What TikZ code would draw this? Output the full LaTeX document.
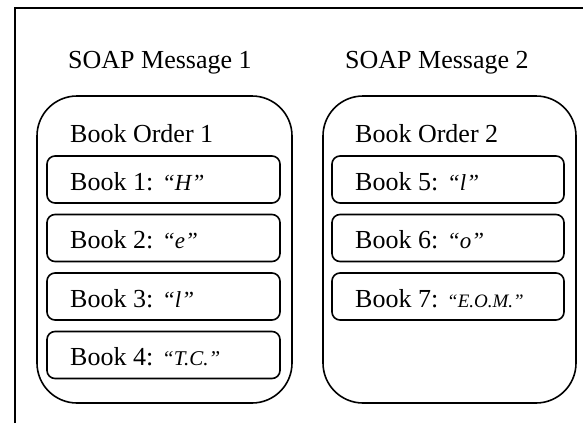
\documentclass[tikz,border=0pt]{standalone}
\usepackage{fontspec}
\setmainfont{Liberation Serif}
\begin{document}
\begin{tikzpicture}[x=1pt,y=-1pt,
  bigbox/.style={draw,line width=1.6pt,rounded corners=40pt},
  bookbox/.style={draw,line width=1.6pt,rounded corners=8pt},
  txt/.style={anchor=base west,inner sep=0pt,font=\fontsize{26}{30}\selectfont},
  qt/.style={anchor=base west,inner sep=0pt,font=\fontsize{23}{28}\selectfont\itshape},
  frame/.style={line width=1.3pt}]
\useasboundingbox (0,0) rectangle (583,423);
% frame
\coordinate (fa) at (15,423);
\coordinate (fb) at (15,8);
\coordinate (fc) at (584,8);
\draw[frame] (fa) -- (fb) -- (fc);
% message titles
\node[txt] (m1) at (68,68) {SOAP Message 1};
\node[txt] (m2) at (345,68) {SOAP Message 2};
% big boxes
\draw[bigbox] (37,96) rectangle (292,403);
\draw[bigbox] (323,96) rectangle (576,403);
\node[txt] (o1) at (70,142) {Book Order 1};
\node[txt] (o2) at (355,142) {Book Order 2};
% left books
\foreach \t/\n/\q/\s in {156/1/H/23, 214.5/2/e/23, 273/3/l/23, 331.5/4/T.C./21}{
  \draw[bookbox] (47,\t) rectangle (280,\t+47);
  \node[txt] (b\n) at (70,\t+34) {Book \n:};
  \node[qt,font=\fontsize{\s}{\s}\selectfont\itshape] (q\n) at (162,\t+34) {“\q”};
}
% right books
\foreach \t/\n/\q/\s in {156/5/l/23, 214.5/6/o/23, 273/7/E.O.M./19}{
  \draw[bookbox] (332,\t) rectangle (564,\t+47);
  \node[txt] (b\n) at (355,\t+34) {Book \n:};
  \node[qt,font=\fontsize{\s}{\s}\selectfont\itshape] (q\n) at (447,\t+34) {“\q”};
}
\end{tikzpicture}
\end{document}
